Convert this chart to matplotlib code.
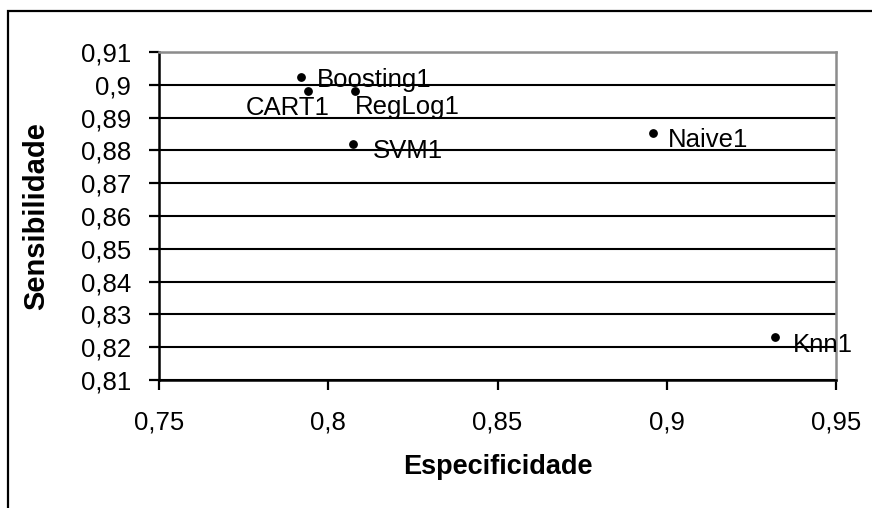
import matplotlib
matplotlib.use("Agg")
import matplotlib.pyplot as plt
from matplotlib.patches import Rectangle
from matplotlib.ticker import FixedLocator, FuncFormatter

# data
models = ["Boosting1", "CART1", "RegLog1", "SVM1", "Naive1", "Knn1"]
especificidade = [0.792, 0.794, 0.808, 0.8073, 0.8959, 0.932]
sensibilidade = [0.9024, 0.8981, 0.8981, 0.882, 0.8853, 0.8231]

x_ticks = [0.75, 0.8, 0.85, 0.9, 0.95]
y_ticks = [0.81, 0.82, 0.83, 0.84, 0.85, 0.86, 0.87, 0.88, 0.89, 0.9, 0.91]

# label placement (pixel offsets from the point) and alignment
label_offsets = [(16, -10), (22, -24), (0, -23), (20, -14), (15, -14), (18, -15)]
label_ha = ["left", "right", "left", "left", "left", "left"]

FONT = "Liberation Sans"
plt.rcParams["font.family"] = [FONT, "DejaVu Sans"]

W, H = 872, 508
fig = plt.figure(figsize=(W / 100, H / 100), dpi=100)
fig.patch.set_facecolor("white")

# outer chart frame (runs past the right and bottom edges of the picture)
fig.add_artist(Rectangle((8 / W, -0.1), 1.2, 1 - 11 / H + 0.1,
                         transform=fig.transFigure, fill=False,
                         edgecolor="black", linewidth=1.6))

left, right, top, bottom = 159, 836, 52, 380
ax = fig.add_axes([left / W, 1 - bottom / H, (right - left) / W, (bottom - top) / H])

ax.scatter(especificidade, sensibilidade, s=28, color="black", zorder=3)

for name, x, y, off, ha in zip(models, especificidade, sensibilidade, label_offsets, label_ha):
    ax.annotate(name, (x, y), xytext=off, textcoords="offset pixels",
                ha=ha, va="baseline", fontsize=18.5, color="black", zorder=4)

ax.set_xlim(x_ticks[0], x_ticks[-1])
ax.set_ylim(y_ticks[0], y_ticks[-1])
ax.xaxis.set_major_locator(FixedLocator(x_ticks))
ax.yaxis.set_major_locator(FixedLocator(y_ticks))
fmt = FuncFormatter(lambda v, p: ("%g" % round(v, 2)).replace(".", ","))
ax.xaxis.set_major_formatter(fmt)
ax.yaxis.set_major_formatter(fmt)

ax.tick_params(axis="both", direction="out", length=7, width=1.6, color="black",
               labelsize=18.5, labelcolor="black")
ax.tick_params(axis="y", pad=13)
ax.tick_params(axis="x", pad=15)

ax.set_axisbelow(True)
ax.yaxis.grid(True, color="black", linewidth=1.5)
ax.xaxis.grid(False)

for side in ("left", "bottom"):
    ax.spines[side].set_color("black")
    ax.spines[side].set_linewidth(1.8)
for side in ("top", "right"):
    ax.spines[side].set_color("#8c8c8c")
    ax.spines[side].set_linewidth(1.8)

ax.set_xlabel("Especificidade", fontsize=19.5, fontweight="bold")
ax.set_ylabel("Sensibilidade", fontsize=21, fontweight="bold")
ax.xaxis.set_label_coords(0.5, -0.225)
ax.yaxis.set_label_coords(-0.16, 0.5)

fig.savefig("out.png", dpi=100)
